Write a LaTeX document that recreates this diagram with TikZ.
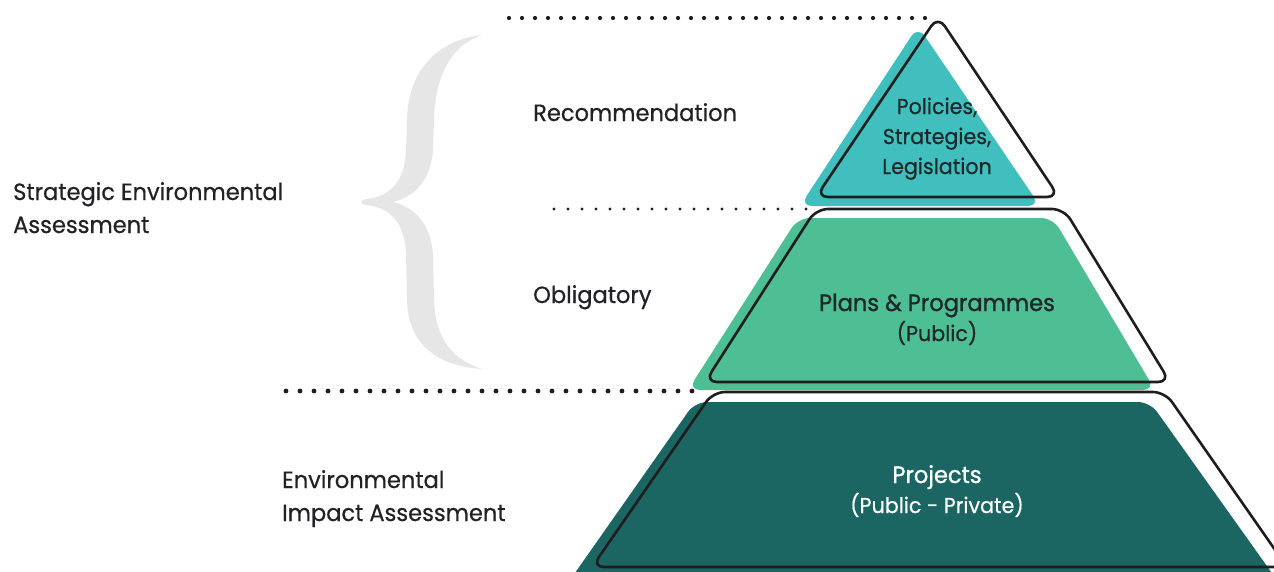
\documentclass[tikz,border=0pt]{standalone}
\usepackage{fontspec}
\setmainfont{Poppins}[FakeStretch=0.96, FakeBold=0.5]
\newfontfamily\medfont{Poppins}[FakeStretch=0.96, FakeBold=1.1]
\definecolor{cteal}{RGB}{64,191,190}
\definecolor{cgreen}{RGB}{78,190,148}
\definecolor{cdark}{RGB}{27,101,99}
\definecolor{cbrace}{RGB}{230,230,230}
\definecolor{cline}{RGB}{30,30,30}
\definecolor{ctext}{RGB}{34,34,38}
\definecolor{cin}{RGB}{28,40,42}
\begin{document}
\begin{tikzpicture}[x=1pt,y=-1pt,
  tealshape/.style={fill=cteal, rounded corners=12pt},
  greenshape/.style={fill=cgreen, rounded corners=12pt},
  darkshape/.style={fill=cdark, rounded corners=12pt},
  outshape/.style={draw=cline, line width=2.6pt, rounded corners=12pt, line join=round},
  dotline/.style={draw=cline, line width=4.2pt, line cap=round, dash pattern=on 0pt off 13pt},
  lbl/.style={font=\fontsize{23.5}{33}\selectfont, text=ctext, inner sep=0pt, anchor=base west, align=left},
  pyr/.style={font=\fontsize{21.5}{30}\selectfont, text=cin, inner sep=0pt, anchor=base, align=center}
]
\clip (0,0) rectangle (1274,571);
\fill[white] (0,0) rectangle (1274,571);

% brace
\fill[cbrace] (482,35)
  .. controls (438,40) and (408,70) .. (407,120)
  -- (406,152)
  .. controls (404,184) and (388,197) .. (366,199)
  .. controls (360,200) and (360,205) .. (366,205)
  .. controls (388,207) and (404,220) .. (406,252)
  -- (407,300)
  .. controls (408,345) and (438,366) .. (482,369)
  .. controls (454,360) and (435,340) .. (434,300)
  -- (433,255)
  .. controls (431,226) and (417,208) .. (393,202)
  .. controls (417,196) and (431,178) .. (433,150)
  -- (434,120)
  .. controls (435,72) and (454,44) .. (482,35) -- cycle;

% dotted lines
\coordinate (d1s) at (509,18);
\coordinate (d1e) at (932,18);
\coordinate (d2s) at (554,209);
\coordinate (d2e) at (810,209);
\coordinate (d3s) at (286,391);
\coordinate (d3e) at (706,391);
\draw[dotline] (d1s) -- (d1e);
\draw[dotline, line width=3.4pt, dash pattern=on 0pt off 14pt] (d2s) -- (d2e);
\draw[dotline, line width=4.8pt, dash pattern=on 0pt off 14pt] (d3s) -- (d3e);

% fills
\fill[tealshape] (918,26) -- (1040,206) -- (800,206) -- cycle;
\fill[greenshape] (798,218) -- (1053,218) -- (1155,390) -- (688,390) -- cycle;
\fill[darkshape] (695,402) -- (1150,402) -- (1284,590) -- (563,590) -- cycle;

% outlines
\draw[outshape] (938,16) -- (1059,197) -- (816,197) -- cycle;
\draw[outshape] (816,209) -- (1064,209) -- (1170,382) -- (705,382) -- cycle;
\draw[outshape] (713,392) -- (1165,392) -- (1287,567) -- (592,567) -- cycle;

% texts
\node[lbl] (rec) at (533,121) {Recommendation};
\node[lbl] (obl) at (533,303) {Obligatory};
\node[lbl] (sea) at (13,233) {Strategic Environmental\\Assessment};
\node[lbl] (eia) at (282,521) {Environmental\\Impact Assessment};
\node[pyr] (pol) at (937,174) {Policies,\\Strategies,\\Legislation};
\node[pyr, font=\fontsize{23.5}{30}\medfont] (pp) at (937,341) {Plans \& Programmes\\{\fontsize{21.5}{30}\selectfont\rmfamily(Public)}};
\node[pyr, font=\fontsize{23.5}{30}\medfont, text=white] (prj) at (937,513) {Projects\\{\fontsize{21.5}{30}\selectfont\rmfamily(Public - Private)}};
\end{tikzpicture}
\end{document}
